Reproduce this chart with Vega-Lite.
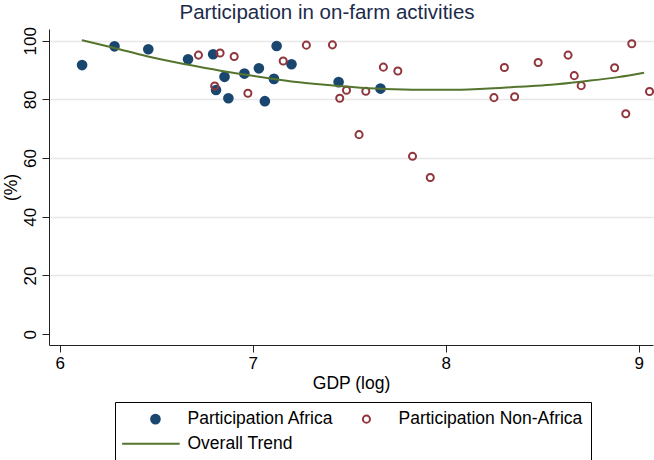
{
  "$schema": "https://vega.github.io/schema/vega-lite/v6.json",
  "width": 604,
  "height": 316,
  "autosize": {"type": "none"},
  "padding": {"left": 49, "top": 29, "right": 1, "bottom": 115},
  "background": "white",
  "title": {
    "text": "Participation in on-farm activities",
    "font": "Liberation Sans",
    "fontSize": 20.5,
    "fontWeight": "normal",
    "color": "#1c2b4a",
    "anchor": "middle",
    "dx": -24,
    "offset": 3
  },
  "data": {
    "values": [
      {"gdp": 6.116, "pct": 91.7, "series": "Participation Africa"},
      {"gdp": 6.284, "pct": 98.1, "series": "Participation Africa"},
      {"gdp": 6.459, "pct": 97.1, "series": "Participation Africa"},
      {"gdp": 6.665, "pct": 93.7, "series": "Participation Africa"},
      {"gdp": 6.795, "pct": 95.4, "series": "Participation Africa"},
      {"gdp": 6.81, "pct": 83.2, "series": "Participation Africa"},
      {"gdp": 6.854, "pct": 87.7, "series": "Participation Africa"},
      {"gdp": 6.874, "pct": 80.4, "series": "Participation Africa"},
      {"gdp": 6.957, "pct": 88.8, "series": "Participation Africa"},
      {"gdp": 7.032, "pct": 90.6, "series": "Participation Africa"},
      {"gdp": 7.063, "pct": 79.4, "series": "Participation Africa"},
      {"gdp": 7.11, "pct": 87.0, "series": "Participation Africa"},
      {"gdp": 7.124, "pct": 98.2, "series": "Participation Africa"},
      {"gdp": 7.201, "pct": 92.0, "series": "Participation Africa"},
      {"gdp": 7.445, "pct": 85.9, "series": "Participation Africa"},
      {"gdp": 7.662, "pct": 83.7, "series": "Participation Africa"},
      {"gdp": 6.719, "pct": 95.1, "series": "Participation Non-Africa"},
      {"gdp": 6.831, "pct": 95.8, "series": "Participation Non-Africa"},
      {"gdp": 6.904, "pct": 94.6, "series": "Participation Non-Africa"},
      {"gdp": 6.803, "pct": 84.6, "series": "Participation Non-Africa"},
      {"gdp": 6.975, "pct": 82.1, "series": "Participation Non-Africa"},
      {"gdp": 7.158, "pct": 93.1, "series": "Participation Non-Africa"},
      {"gdp": 7.278, "pct": 98.5, "series": "Participation Non-Africa"},
      {"gdp": 7.413, "pct": 98.6, "series": "Participation Non-Africa"},
      {"gdp": 7.451, "pct": 80.4, "series": "Participation Non-Africa"},
      {"gdp": 7.486, "pct": 83.1, "series": "Participation Non-Africa"},
      {"gdp": 7.551, "pct": 68.0, "series": "Participation Non-Africa"},
      {"gdp": 7.586, "pct": 82.8, "series": "Participation Non-Africa"},
      {"gdp": 7.677, "pct": 91.0, "series": "Participation Non-Africa"},
      {"gdp": 7.752, "pct": 89.7, "series": "Participation Non-Africa"},
      {"gdp": 7.828, "pct": 60.6, "series": "Participation Non-Africa"},
      {"gdp": 7.92, "pct": 53.4, "series": "Participation Non-Africa"},
      {"gdp": 8.25, "pct": 80.6, "series": "Participation Non-Africa"},
      {"gdp": 8.304, "pct": 90.9, "series": "Participation Non-Africa"},
      {"gdp": 8.357, "pct": 80.9, "series": "Participation Non-Africa"},
      {"gdp": 8.479, "pct": 92.6, "series": "Participation Non-Africa"},
      {"gdp": 8.634, "pct": 95.1, "series": "Participation Non-Africa"},
      {"gdp": 8.666, "pct": 88.1, "series": "Participation Non-Africa"},
      {"gdp": 8.702, "pct": 84.7, "series": "Participation Non-Africa"},
      {"gdp": 8.875, "pct": 90.8, "series": "Participation Non-Africa"},
      {"gdp": 8.933, "pct": 75.1, "series": "Participation Non-Africa"},
      {"gdp": 8.964, "pct": 99.0, "series": "Participation Non-Africa"},
      {"gdp": 9.056, "pct": 82.7, "series": "Participation Non-Africa"},
      {"gdp": 6.115, "pct": 100.2, "series": "Overall Trend"},
      {"gdp": 6.279, "pct": 97.6, "series": "Overall Trend"},
      {"gdp": 6.452, "pct": 94.7, "series": "Overall Trend"},
      {"gdp": 6.66, "pct": 91.9, "series": "Overall Trend"},
      {"gdp": 6.833, "pct": 89.8, "series": "Overall Trend"},
      {"gdp": 6.954, "pct": 88.5, "series": "Overall Trend"},
      {"gdp": 7.092, "pct": 87.1, "series": "Overall Trend"},
      {"gdp": 7.213, "pct": 86.0, "series": "Overall Trend"},
      {"gdp": 7.387, "pct": 84.9, "series": "Overall Trend"},
      {"gdp": 7.56, "pct": 84.0, "series": "Overall Trend"},
      {"gdp": 7.733, "pct": 83.5, "series": "Overall Trend"},
      {"gdp": 7.906, "pct": 83.3, "series": "Overall Trend"},
      {"gdp": 8.079, "pct": 83.3, "series": "Overall Trend"},
      {"gdp": 8.2, "pct": 83.6, "series": "Overall Trend"},
      {"gdp": 8.373, "pct": 84.3, "series": "Overall Trend"},
      {"gdp": 8.546, "pct": 85.0, "series": "Overall Trend"},
      {"gdp": 8.719, "pct": 86.2, "series": "Overall Trend"},
      {"gdp": 8.893, "pct": 87.6, "series": "Overall Trend"},
      {"gdp": 9.028, "pct": 89.1, "series": "Overall Trend"}
    ]
  },
  "encoding": {
    "x": {
      "field": "gdp",
      "type": "quantitative",
      "scale": {"domain": [5.9446, 9.074], "nice": false, "zero": false},
      "axis": {
        "values": [6, 7, 8, 9],
        "title": "GDP (log)",
        "grid": false,
        "labelPadding": 3,
        "titlePadding": 3
      }
    },
    "y": {
      "field": "pct",
      "type": "quantitative",
      "scale": {"domain": [-3.7, 104], "nice": false, "zero": false},
      "axis": {
        "values": [0, 20, 40, 60, 80, 100],
        "title": "(%)",
        "grid": true,
        "gridColor": "#e8e8e8",
        "gridWidth": 1.5,
        "gridOpacity": {"condition": {"test": "datum.value === 0", "value": 0}, "value": 1},
        "labelAngle": 270,
        "labelPadding": 3,
        "titlePadding": 1
      }
    },
    "stroke": {
      "field": "series",
      "type": "nominal",
      "title": null,
      "scale": {
        "domain": ["Participation Africa", "Participation Non-Africa", "Overall Trend"],
        "range": ["#1a476f", "#90353b", "#55752f"]
      }
    }
  },
  "layer": [
    {
      "transform": [{"filter": "datum.series !== 'Overall Trend'"}],
      "mark": {"type": "point", "strokeWidth": 2, "opacity": 1},
      "encoding": {
        "fill": {
          "field": "series",
          "type": "nominal",
          "title": null,
          "scale": {
            "domain": ["Participation Africa", "Participation Non-Africa", "Overall Trend"],
            "range": ["#1a476f", "transparent", "transparent"]
          }
        },
        "shape": {
          "field": "series",
          "type": "nominal",
          "title": null,
          "scale": {
            "domain": ["Participation Africa", "Participation Non-Africa", "Overall Trend"],
            "range": ["circle", "circle", "M-7.7,0H5.6"]
          }
        },
        "size": {
          "field": "series",
          "type": "nominal",
          "title": null,
          "scale": {
            "type": "ordinal",
            "domain": ["Participation Africa", "Participation Non-Africa", "Overall Trend"],
            "range": [75, 50, 75]
          }
        }
      }
    },
    {
      "transform": [{"filter": "datum.series === 'Overall Trend'"}],
      "mark": {"type": "line", "strokeWidth": 2, "interpolate": "monotone"}
    }
  ],
  "config": {
    "view": {"stroke": null},
    "axis": {
      "labelFont": "Liberation Sans",
      "titleFont": "Liberation Sans",
      "labelFontSize": 17,
      "titleFontSize": 17.5,
      "titleFontWeight": "normal",
      "labelColor": "#000000",
      "titleColor": "#000000",
      "domainColor": "#222222",
      "tickColor": "#222222",
      "tickSize": 7,
      "domainWidth": 1,
      "tickWidth": 1
    },
    "legend": {
      "orient": "none",
      "legendX": 66,
      "legendY": 373,
      "columns": 2,
      "direction": "horizontal",
      "strokeColor": "#000000",
      "strokeWidth": 1,
      "padding": 8,
      "labelFont": "Liberation Sans",
      "labelFontSize": 17.5,
      "labelColor": "#000000",
      "symbolOffset": 23.7,
      "labelOffset": 23.3,
      "labelLimit": 400,
      "symbolStrokeWidth": 2,
      "rowPadding": 6,
      "columnPadding": -12
    }
  }
}
